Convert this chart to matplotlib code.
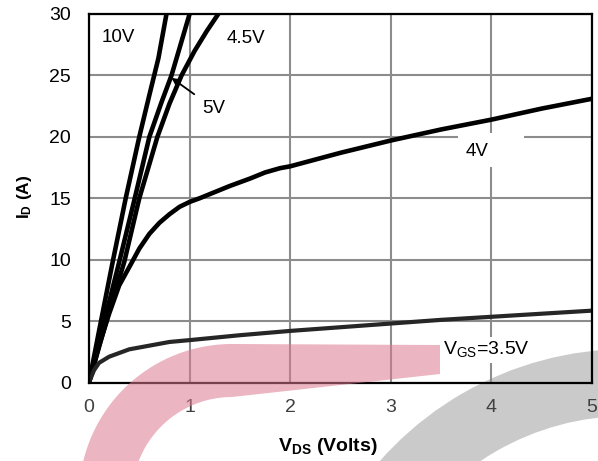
import matplotlib
matplotlib.use("Agg")
import matplotlib.pyplot as plt
from matplotlib.patches import Wedge, Rectangle, Polygon
import numpy as np

plt.rcParams['font.family'] = ['Liberation Sans', 'DejaVu Sans']
plt.rcParams['mathtext.fontset'] = 'custom'
plt.rcParams['mathtext.rm'] = 'Liberation Sans'
plt.rcParams['mathtext.bf'] = 'Liberation Sans:bold'

# curves (V_DS in volts, I_D in amps)
v_10 = [0, 0.1, 0.235, 0.365, 0.5, 0.6, 0.69, 0.77, 0.8]
i_10 = [0, 4.2, 9.8, 15.0, 20.0, 23.4, 26.4, 30.0, 31.2]

v_5 = [0, 0.1, 0.3, 0.455, 0.6, 0.72, 0.82, 0.91, 1.0, 1.03]
i_5 = [0, 3.3, 9.8, 15.0, 20.0, 22.8, 25.0, 27.5, 30.0, 30.8]

v_45 = [0, 0.1, 0.2, 0.35, 0.5, 0.68, 0.8, 0.92, 1.05, 1.17, 1.285, 1.33]
i_45 = [0, 2.9, 5.8, 9.8, 15.0, 20.0, 22.7, 25.0, 27.0, 28.6, 30.0, 30.6]

v_4 = [0, 0.1, 0.2, 0.3, 0.434, 0.5, 0.6, 0.7, 0.8, 0.9, 1.0, 1.1, 1.25,
       1.4, 1.5, 1.6, 1.75, 1.9, 2.0, 2.5, 3.0, 3.5, 4.0, 4.5, 5.0]
i_4 = [0, 3.0, 5.6, 7.9, 9.9, 10.9, 12.1, 13.0, 13.7, 14.3, 14.7, 15.0, 15.5,
       16.0, 16.3, 16.6, 17.1, 17.45, 17.6, 18.7, 19.7, 20.6, 21.4, 22.3, 23.1]

v_35 = [0, 0.05, 0.1, 0.2, 0.4, 0.6, 0.8, 1.0, 1.5, 2.0, 2.5, 3.0, 3.5,
        4.0, 4.5, 5.0]
i_35 = [0, 1.0, 1.6, 2.1, 2.7, 3.0, 3.3, 3.45, 3.85, 4.2, 4.5, 4.8, 5.1,
        5.35, 5.6, 5.85]

x_ticks = [0, 1, 2, 3, 4, 5]
y_ticks = [0, 5, 10, 15, 20, 25, 30]

fig = plt.figure(figsize=(5.98, 4.61), dpi=100)

# background layer in pixel coords (y down) for the grey watermark arc
bg = fig.add_axes([0, 0, 1, 1], zorder=0)
bg.set_xlim(0, 598)
bg.set_ylim(461, 0)
bg.axis('off')
bg.add_patch(Wedge((628, 680), 331, -180, -60, width=67,
                   facecolor='#a0a0a0', alpha=0.55, edgecolor='none'))

ax = fig.add_axes([89/598, 1-382.5/461, (592-89)/598, (382.5-14)/461], zorder=1)
ax.patch.set_alpha(0)

for v, i in [(v_10, i_10), (v_5, i_5), (v_45, i_45), (v_4, i_4)]:
    ax.plot(v, i, color='black', lw=3.3, solid_capstyle='butt', zorder=3)
ax.plot(v_35, i_35, color='#262626', lw=3.0, zorder=3)

ax.set_xlim(0, 5)
ax.set_ylim(0, 30)
ax.set_xticks(x_ticks)
ax.set_yticks(y_ticks)
ax.tick_params(length=0, labelsize=14)
ax.tick_params(axis='y', pad=13)
ax.tick_params(axis='x', pad=12, labelcolor='#404040')
ax.grid(True, color='#8c8c8c', lw=1.5, zorder=1)
ax.set_axisbelow(True)
for s in ax.spines.values():
    s.set_linewidth(1.6)
    s.set_zorder(4)

fig.text(327.5/598, 1-446/461, r'$\mathbf{V_{DS}}$ (Volts)', fontsize=14,
         fontweight='bold', ha='center', va='center')
fig.text(24/598, 1-197/461, r'$\mathbf{I_D}$ (A)', fontsize=12.5,
         fontweight='bold', ha='center', va='center', rotation=90)

# curve labels
ax.text(0.13, 28.1, '10V', fontsize=13.5, ha='left', va='center', zorder=5)
ax.text(1.37, 28.0, '4.5V', fontsize=13.5, ha='left', va='center', zorder=5)
ax.annotate('5V', xy=(0.82, 24.8), xytext=(1.13, 22.3), fontsize=13.5,
            ha='left', va='center', zorder=5,
            arrowprops=dict(arrowstyle='-|>', color='black', lw=1.3,
                            shrinkA=5, shrinkB=0, mutation_scale=12))
ax.add_patch(Rectangle((3.67, 17.55), 0.65, 2.75, facecolor='white',
                       edgecolor='none', zorder=2))
ax.text(3.74, 18.8, '4V', fontsize=13.5, ha='left', va='center', zorder=5)
ax.text(3.52, 2.64, r'V$_{\mathregular{GS}}$=3.5V', fontsize=14, ha='left',
        va='center', zorder=5,
        bbox=dict(facecolor='white', edgecolor='none', pad=2))

# pink watermark band on top: rounded corner shape
fg = fig.add_axes([0, 0, 1, 1], zorder=10)
fg.set_xlim(0, 598)
fg.set_ylim(461, 0)
fg.axis('off')
t_out = np.linspace(np.pi, np.pi / 2, 40)
t_in = np.linspace(np.pi / 2, np.pi, 40)
outer = np.c_[232 + 153 * np.cos(t_out), 497 - 153 * np.sin(t_out)]
inner = np.c_[232 + 100 * np.cos(t_in), 497 - 100 * np.sin(t_in)]
pts = np.vstack([outer, [[440, 345], [440, 374]], inner])
fg.add_patch(Polygon(pts, closed=True, facecolor='#dc7890', alpha=0.55,
                     edgecolor='none'))

fig.savefig('out.png', dpi=100)
